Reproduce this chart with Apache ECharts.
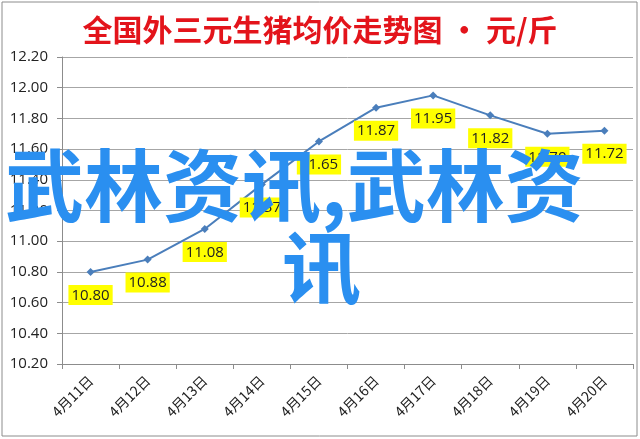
<!DOCTYPE html>
<html>
<head>
<meta charset="utf-8">
<script src="https://cdn.jsdelivr.net/npm/echarts@6/dist/echarts.min.js"></script>
<style>
html,body{margin:0;padding:0;background:#fff;}
#c{width:640px;height:439px;}
</style>
</head>
<body>
<div id="c"></div>
<script>
var categories = ['4月11日','4月12日','4月13日','4月14日','4月15日','4月16日','4月17日','4月18日','4月19日','4月20日'];
var prices = [10.80, 10.88, 11.08, 11.37, 11.65, 11.87, 11.95, 11.82, 11.70, 11.72];
var titleText = '全国外三元生猪均价走势图 · 元/斤';
var watermarkLine1 = '武林资讯,武林资';
var watermarkLine2 = '讯';

var chart = echarts.init(document.getElementById('c'));
chart.setOption({
  animation: false,
  backgroundColor: '#fff',
  title: {
    text: titleText,
    left: 'center',
    top: 10,
    textStyle: {
      color: '#e3141b',
      fontSize: 30,
      fontWeight: 'bold',
      fontFamily: 'Noto Sans CJK SC'
    }
  },
  grid: { left: 62, right: 7, top: 57, bottom: 75 },
  xAxis: {
    type: 'category',
    data: categories,
    boundaryGap: true,
    axisLine: { lineStyle: { color: '#8c8c8c', width: 1 } },
    axisTick: { show: true, length: 5, lineStyle: { color: '#8c8c8c' } },
    axisLabel: {
      rotate: 45,
      margin: 14,
      fontSize: 14,
      color: '#222',
      fontFamily: 'Noto Sans CJK SC'
    }
  },
  yAxis: {
    type: 'value',
    min: 10.2,
    max: 12.2,
    interval: 0.2,
    axisLine: { show: true, lineStyle: { color: '#8c8c8c', width: 1 } },
    axisTick: { show: true, length: 5, lineStyle: { color: '#8c8c8c' } },
    splitLine: { lineStyle: { color: '#a6a6a6', width: 1 } },
    axisLabel: {
      margin: 14,
      fontSize: 15,
      color: '#222',
      fontFamily: 'Open Sans',
      formatter: function (v) { return v.toFixed(2); }
    }
  },
  series: [{
    type: 'line',
    data: prices,
    symbol: 'diamond',
    symbolSize: 8,
    itemStyle: { color: '#4a7ebb' },
    lineStyle: { color: '#4a7ebb', width: 2 },
    label: {
      show: true,
      position: 'bottom',
      distance: 9,
      backgroundColor: '#ffff00',
      padding: [3, 3, 2, 3],
      color: '#222',
      fontSize: 15,
      fontFamily: 'Open Sans',
      formatter: function (p) { return p.value.toFixed(2); }
    }
  }],
  graphic: [
    {
      type: 'rect',
      shape: { x: 2, y: 2, width: 635, height: 434 },
      style: { fill: 'none', stroke: '#8c8c8c', lineWidth: 1 },
      silent: true,
      z: 100
    },
    {
      type: 'text',
      left: 5,
      top: 146,
      style: {
        text: watermarkLine1,
        fill: '#2a8ff0',
        font: 'bold 79px "Noto Sans CJK SC"'
      },
      z: 200
    },
    {
      type: 'text',
      left: 282,
      top: 228,
      style: {
        text: watermarkLine2,
        fill: '#2a8ff0',
        font: 'bold 79px "Noto Sans CJK SC"'
      },
      z: 200
    }
  ]
});
</script>
</body>
</html>
